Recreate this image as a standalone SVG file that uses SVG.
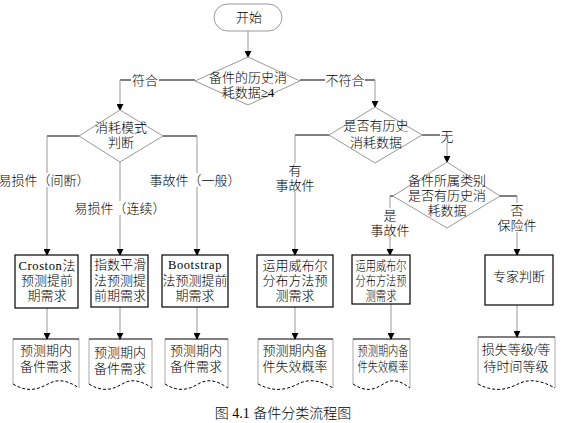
<svg xmlns="http://www.w3.org/2000/svg" width="565" height="423" viewBox="0 0 565 423">
<style>
text{font-family:"Liberation Serif","Noto Sans CJK SC",serif;font-size:13px;font-weight:300;fill:#000;text-anchor:middle}
.mono{font-family:"Liberation Serif",serif;font-size:12.5px;font-weight:400;letter-spacing:0.6px}
.cap{font-size:14px}
.dia{fill:#fff;stroke:#999;stroke-width:1}
.box{fill:#fff;stroke:#000;stroke-width:1.2}
.docs{fill:#fff;stroke:#aaa;stroke-width:1}
.doct{stroke:#000;stroke-width:1.2;fill:none}
.docw{stroke:#000;stroke-width:1;fill:none;stroke-dasharray:3 2}
.h{stroke:#000;stroke-width:1;fill:none}
.v{stroke:#999;stroke-width:1;fill:none;marker-end:url(#ah)}
.lb{fill:#fff;stroke:none}
</style>
<defs>
<marker id="ah" viewBox="0 0 8 8" refX="7" refY="4" markerWidth="7" markerHeight="7" markerUnits="userSpaceOnUse" orient="auto">
<path d="M0,0 L8,4 L0,8 Z" fill="#000"/>
</marker>
</defs>
<rect width="565" height="423" fill="#fff"/>
<g id="connectors">
<path class="v" d="M248,31 V57"/>
<path class="h" d="M195,80 H120"/><path class="v" d="M120,80 V110"/>
<path class="h" d="M300,80 H375"/><path class="v" d="M375,80 V107"/>
<path class="h" d="M79,136 H47"/><path class="v" d="M47,136 V255"/>
<path class="v" d="M120,162 V255"/>
<path class="h" d="M163,136 H197"/><path class="v" d="M197,136 V255"/>
<path class="h" d="M329,135 H295"/><path class="v" d="M295,135 V255"/>
<path class="h" d="M422,135 H447"/><path class="v" d="M447,135 V162"/>
<path class="h" d="M393,196 H390"/><path class="v" d="M390,196 V255"/>
<path class="h" d="M500,196 H517"/><path class="v" d="M517,196 V255"/>
<path class="v" d="M47,308 V339"/>
<path class="v" d="M120,307 V339"/>
<path class="v" d="M197,307 V339"/>
<path class="v" d="M295,307 V339"/>
<path class="v" d="M391,304 V339"/>
<path class="v" d="M517,305 V337"/>
<rect class="lb" x="131" y="73" width="28" height="14"/><text x="145" y="84.5">符合</text>
<rect class="lb" x="325" y="73" width="40" height="14"/><text x="345" y="84.5">不符合</text>
<rect class="lb" x="440" y="129" width="14" height="14"/><text x="447" y="140.5">无</text>
<rect class="lb" x="0" y="173" width="90" height="14"/><text x="44" y="184.5">易损件（间断）</text>
<rect class="lb" x="75" y="201" width="92" height="14"/><text x="120" y="212.5">易损件（连续）</text>
<rect class="lb" x="150" y="173" width="92" height="14"/><text x="195" y="184.5">事故件（一般）</text>
<rect class="lb" x="275" y="163" width="40" height="29"/><text x="295" y="174.5">有</text><text x="295" y="189.5">事故件</text>
<rect class="lb" x="370" y="208" width="40" height="29"/><text x="390" y="219.5">是</text><text x="390" y="234.5">事故件</text>
<rect class="lb" x="497" y="203" width="40" height="29"/><text x="517" y="214.5">否</text><text x="517" y="229.5">保险件</text>
</g>
<g id="start"><rect x="214" y="4" width="68" height="27" rx="13.5" fill="#fff" stroke="#999"/><text x="249" y="21.5">开始</text></g>
<g id="d1"><polygon class="dia" points="248,57 300,81 248,105 195,81"/><text x="248" y="81.5">备件的历史消</text><text x="248" y="97">耗数据≥4</text></g>
<g id="d2"><polygon class="dia" points="120,110 163,136 120,162 79,136"/><text x="121" y="131.5">消耗模式</text><text x="121" y="146.5">判断</text></g>
<g id="d3"><polygon class="dia" points="375,107 422,135 375,163 329,135"/><text x="376" y="129.5">是否有历史</text><text x="376" y="146.5">消耗数据</text></g>
<g id="d4"><polygon class="dia" points="447,162 500,196 447,228 393,196"/><text x="447" y="184.5">备件所属类别</text><text x="447" y="199.5">是否有历史消</text><text x="447" y="214.5">耗数据</text></g>
<g id="b1"><rect class="box" x="15" y="255" width="63" height="53"/><text x="47" y="269.5"><tspan class="mono">Croston</tspan>法</text><text x="47" y="284.5">预测提前</text><text x="47" y="299.5">期需求</text></g>
<g id="b2"><rect class="box" x="91" y="255" width="57" height="52"/><text x="120" y="268.5">指数平滑</text><text x="120" y="284.5">法预测提</text><text x="120" y="299.5">前期需求</text></g>
<g id="b3"><rect class="box" x="162" y="255" width="66" height="52"/><text class="mono" x="195" y="268.5">Bootstrap</text><text x="195" y="284.5">法预测提前</text><text x="195" y="299.5">期需求</text></g>
<g id="b4"><rect class="box" x="257" y="255" width="76" height="52"/><text x="295" y="269.5">运用威布尔</text><text x="295" y="284.5">分布方法预</text><text x="295" y="299.5">测需求</text></g>
<g id="b5"><rect class="box" x="352" y="255" width="58" height="49"/><text x="381" y="269.5" textLength="51" lengthAdjust="spacingAndGlyphs">运用威布尔</text><text x="381" y="284.5" textLength="51" lengthAdjust="spacingAndGlyphs">分布方法预</text><text x="381" y="299.5" textLength="31" lengthAdjust="spacingAndGlyphs">测需求</text></g>
<g id="b6"><rect class="box" x="485" y="255" width="68" height="50"/><text x="519" y="280.5">专家判断</text></g>
<g id="doc1"><path class="docs" d="M13,339 V384 M79,339 V388"/><path class="doct" d="M13,339 H79" stroke-width="2.5"/><path class="docw" d="M13,384 C30,394 40,388 50,383 C60,378 70,382 79,388"/><text x="46" y="354.5">预测期内</text><text x="46" y="370.5">备件需求</text></g>
<g id="doc2"><path class="docs" d="M89,339 V384 M152,339 V388"/><path class="doct" d="M89,339 H152"/><path class="docw" d="M89,384 C105,394 115,388 124,383 C134,378 143,382 152,388"/><text x="120" y="356.5">预测期内</text><text x="120" y="372.5">备件需求</text></g>
<g id="doc3"><path class="docs" d="M165,339 V384 M228,339 V388"/><path class="doct" d="M165,339 H228"/><path class="docw" d="M165,384 C181,394 191,388 200,383 C210,378 219,382 228,388"/><text x="196" y="354.5">预测期内</text><text x="196" y="370.5">备件需求</text></g>
<g id="doc4"><path class="docs" d="M258,339 V384 M333,339 V388"/><path class="doct" d="M258,339 H333"/><path class="docw" d="M258,384 C277,394 290,388 300,383 C312,378 323,382 333,388"/><text x="295" y="354.5">预测期内备</text><text x="295" y="370.5">件失效概率</text></g>
<g id="doc5"><path class="docs" d="M353,339 V384 M410,339 V388"/><path class="doct" d="M353,339 H410" stroke-width="2.5"/><path class="docw" d="M353,384 C368,394 377,388 385,383 C394,378 402,382 410,388"/><text x="383" y="354.5" textLength="51" lengthAdjust="spacingAndGlyphs">预测期内备</text><text x="383" y="370.5" textLength="51" lengthAdjust="spacingAndGlyphs">件失效概率</text></g>
<g id="doc6"><path class="docs" d="M478,337 V384 M555,337 V388"/><path class="doct" d="M478,337 H555"/><path class="docw" d="M478,384 C497,394 510,388 520,383 C532,378 544,382 555,388"/><text x="516" y="353.5">损失等级/等</text><text x="516" y="370.5">待时间等级</text></g>
<text class="cap" x="283" y="418">图 4.1  备件分类流程图</text>
</svg>
